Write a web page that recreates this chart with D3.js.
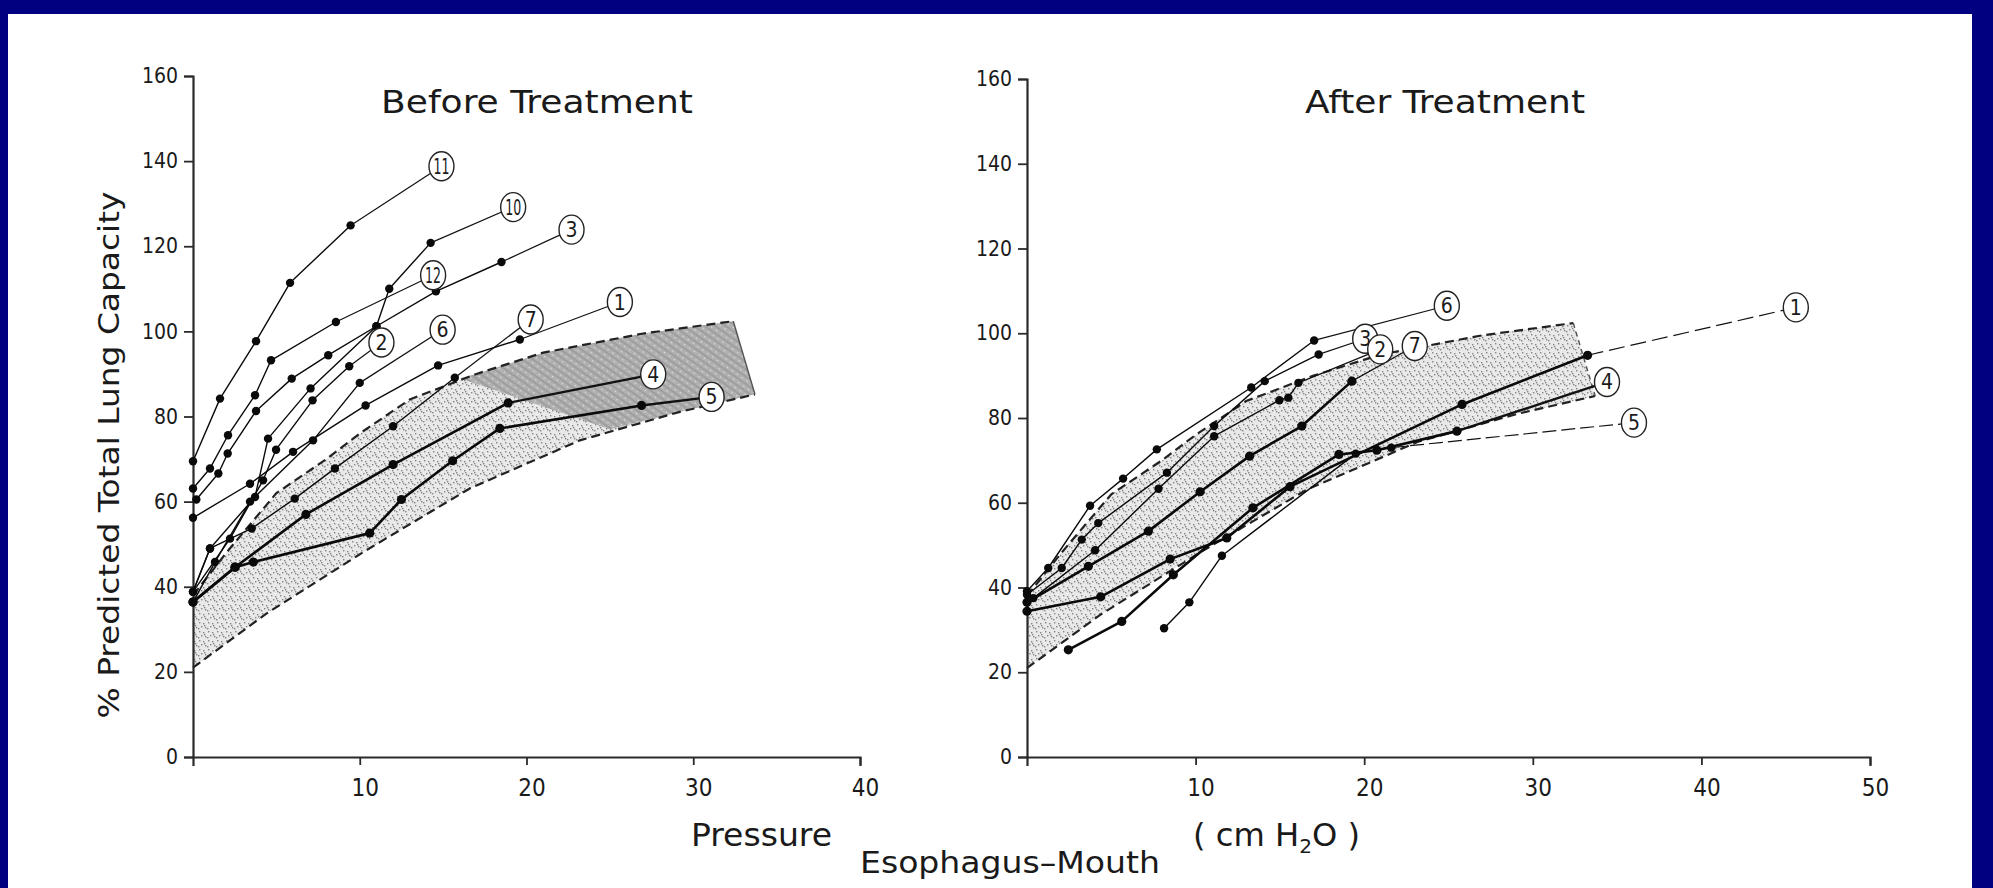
<!DOCTYPE html>
<html>
<head>
<meta charset="utf-8">
<script src="https://cdn.jsdelivr.net/npm/d3@7"></script>
<style>
  html, body { margin: 0; padding: 0; background: #000080; }
  svg { display: block; }
  text { font-family: "Liberation Sans Narrow", "DejaVu Sans Condensed", "Liberation Sans", sans-serif; fill: #1a1a1a; }
</style>
</head>
<body>
<svg id="chart" width="1993" height="888"></svg>
<script>
// ---- axis ticks ----
const yTickValues = [0, 20, 40, 60, 80, 100, 120, 140, 160];
const beforeXTicks = [10, 20, 30, 40];
const afterXTicks = [10, 20, 30, 40, 50];

// ---- normal range (shaded band): [pressure cmH2O, % predicted TLC] ----
const normalUpper = [[0, 38], [2, 48], [5, 62], [8, 70], [10, 76], [13, 84], [17, 90], [21, 95], [27, 99.5], [32.4, 102.4]];
const normalLower = [[0, 21], [4.4, 33.7], [10.4, 48.6], [16.6, 63.1], [23.2, 74.4], [29.2, 81.1], [33.7, 85.2]];
const beforeDarkZone = [[16, 89], [17, 90], [21, 95], [27, 99.5], [32.4, 102.4], [33.7, 85.2], [29.2, 81.1], [25, 77]];

// ---- Before treatment: patient curves ----
const before11 = [[0, 69.5], [1.62, 84.2], [3.78, 97.7], [5.82, 111.4], [9.45, 124.9]];
const before10 = [[0, 38.8], [1.02, 49], [3.72, 61.1], [4.5, 74.8], [7.05, 86.6], [11.0, 101.2], [11.77, 110], [14.25, 120.8]];
const before12 = [[0, 63.1], [1.02, 67.8], [2.1, 75.6], [3.72, 85.0], [4.68, 93.2], [8.57, 102.2]];
const before3 = [[0.2, 60.5], [1.52, 66.6], [2.08, 71.3], [3.78, 81.3], [5.92, 88.9], [8.11, 94.4], [11.0, 101.2], [14.57, 109.4], [18.5, 116.3]];
const before2 = [[0, 38.8], [2.22, 51.3], [4.2, 65], [4.98, 72.2], [7.17, 83.8], [9.37, 91.8]];
const before6 = [[0, 36.4], [1.32, 45.8], [3.42, 60], [7.2, 74.4], [10.0, 87.9]];
const before7 = [[0, 38.8], [1.02, 49], [3.52, 53.7], [6.1, 60.7], [8.51, 67.8], [12.0, 77.7], [15.7, 89.1]];
const before1 = [[0, 56.2], [3.42, 64.2], [6.0, 71.7], [10.35, 82.6], [14.7, 92.0], [19.6, 98.1]];
const before4 = [[0, 36.4], [2.52, 44.6], [6.77, 57], [12.0, 68.7], [18.9, 83.2]];
const before5 = [[0, 36.4], [2.52, 44.6], [3.62, 45.8], [10.6, 52.6], [12.5, 60.5], [15.57, 69.6], [18.4, 77.2], [26.9, 82.6]];
const beforeIds = ["11", "10", "12", "3", "2", "6", "7", "1", "4", "5"];
const beforeLabels = [[14.9, 138.8], [19.2, 129.2], [14.4, 113.2], [22.7, 123.9], [11.3, 97.4], [14.97, 100.4], [20.25, 102.8], [25.6, 106.9], [27.6, 89.9], [31.1, 84.6]];

// ---- After treatment: patient curves ----
const after6 = [[0, 39.1], [1.26, 44.6], [3.74, 59.3], [5.7, 65.7], [7.7, 72.6], [13.3, 87.2], [17.03, 98.3]];
const after3 = [[0, 38.3], [2.06, 44.6], [3.25, 51.3], [4.23, 55.2], [8.3, 67.1], [11.1, 78.1], [14.1, 88.7], [17.3, 95.0]];
const after2 = [[0.38, 37.5], [4.04, 48.8], [7.8, 63.3], [11.1, 75.7], [14.97, 84.2], [15.5, 84.8], [16.1, 88.3]];
const after7 = [[0, 36.5], [3.64, 45.0], [7.2, 53.3], [10.27, 62.6], [13.2, 71.0], [16.3, 78.1], [19.27, 88.7]];
const after1 = [[0, 34.4], [4.37, 37.8], [8.49, 46.7], [11.85, 51.7], [15.6, 63.8], [25.8, 83.2], [33.25, 94.8]];
const after4 = [[2.45, 25.3], [5.62, 32.0], [8.68, 43.0], [13.4, 58.8], [18.5, 71.4], [20.75, 72.4], [25.5, 76.9]];
const after5 = [[8.13, 30.4], [9.63, 36.5], [11.56, 47.5], [19.5, 71.6], [21.6, 73.0]];
const afterIds = ["6", "3", "2", "7", "1", "4", "5"];
const afterLabels = [[24.9, 106.5], [20.06, 98.7], [20.95, 96.2], [23.0, 97.0], [45.6, 106.1], [34.4, 88.5], [36.0, 78.9]];

// ---------------------------------------------------------------
const svg = d3.select("#chart");
const W = 1993, H = 888;

svg.append("rect").attr("width", W).attr("height", H).attr("fill", "#000080");
svg.append("rect").attr("x", 8).attr("y", 14).attr("width", 1964).attr("height", H - 14).attr("fill", "#ffffff");

// stipple textures for the normal band
const defs = svg.append("defs");
const light = defs.append("pattern").attr("id", "stippleLight")
  .attr("patternUnits", "userSpaceOnUse").attr("width", 9).attr("height", 9);
light.append("rect").attr("width", 9).attr("height", 9).attr("fill", "#e9e9e9");
[[1, 1], [5, 2], [3, 5], [7, 6], [0, 7], [6, 4]].forEach(([dx, dy]) =>
  light.append("rect").attr("x", dx).attr("y", dy).attr("width", 1.4).attr("height", 1.4).attr("fill", "#858585"));

const dark = defs.append("pattern").attr("id", "stippleDark")
  .attr("patternUnits", "userSpaceOnUse").attr("width", 6).attr("height", 6)
  .attr("patternTransform", "rotate(35)");
dark.append("rect").attr("width", 6).attr("height", 6).attr("fill", "#b0b0b0");
dark.append("rect").attr("width", 6).attr("height", 1.5).attr("fill", "#999");
dark.append("rect").attr("x", 2).attr("y", 3).attr("width", 1.2).attr("height", 1.2).attr("fill", "#e4e4e4");

function drawPanel(cfg) {
  const x = d3.scaleLinear().domain([0, cfg.xMax]).range(cfg.xRange);
  const y = d3.scaleLinear().domain([0, 160]).range(cfg.yRange);
  const g = svg.append("g");
  const line = d3.line().x(d => x(d[0])).y(d => y(d[1]));

  // normal band
  const band = normalUpper.concat(normalLower.slice().reverse());
  g.append("path").attr("d", line(band) + "Z").attr("fill", "url(#stippleLight)").attr("stroke", "none");
  if (cfg.darkZone) {
    g.append("path").attr("d", line(cfg.darkZone) + "Z").attr("fill", "url(#stippleDark)").attr("stroke", "none");
  }
  [normalUpper, normalLower].forEach(b => {
    g.append("path").attr("d", line(b)).attr("fill", "none")
      .attr("stroke", "#222").attr("stroke-width", 2.2).attr("stroke-dasharray", "9,5");
  });
  g.append("path").attr("d", line([normalUpper[normalUpper.length - 1], normalLower[normalLower.length - 1]]))
    .attr("fill", "none").attr("stroke", "#555").attr("stroke-width", 1.5).attr("stroke-dasharray", cfg.edgeDash);

  // axes
  const yAxis = d3.axisLeft(y).tickValues(yTickValues).tickSizeInner(9).tickSizeOuter(9).tickPadding(6);
  const ya = g.append("g").attr("transform", `translate(${cfg.xRange[0]},0)`).call(yAxis);
  const xAxis = d3.axisBottom(x).tickValues(cfg.xTicks).tickSizeInner(8).tickSizeOuter(9).tickPadding(14);
  const xa = g.append("g").attr("transform", `translate(0,${cfg.yRange[0]})`).call(xAxis);
  [ya, xa].forEach(a => {
    a.select(".domain").attr("stroke", "#2a2a2a").attr("stroke-width", 2.2);
    a.selectAll(".tick line").attr("stroke", "#2a2a2a").attr("stroke-width", 1.8);
  });
  ya.selectAll("text").attr("font-size", 21).style("font-family", "'Liberation Sans Narrow','DejaVu Sans Condensed',sans-serif").attr("fill", "#1a1a1a");
  xa.selectAll("text").attr("font-size", 24).attr("dx", 5).style("font-family", "'Liberation Sans Narrow','DejaVu Sans Condensed',sans-serif").attr("fill", "#1a1a1a");

  // curves
  cfg.curves.forEach((c, i) => {
    const lab = cfg.labels[i];
    const last = c.data[c.data.length - 1];
    g.append("path").attr("d", line([last, lab])).attr("fill", "none")
      .attr("stroke", "#111").attr("stroke-width", c.leaderThick ? 2.4 : 1.2)
      .attr("stroke-dasharray", c.leaderDash || "none");
    g.append("path").attr("d", line(c.data)).attr("fill", "none")
      .attr("stroke", "#0a0a0a").attr("stroke-width", c.thick ? 2.6 : 1.4).attr("stroke-linejoin", "round");
    g.selectAll(null).data(c.data).enter().append("circle")
      .attr("cx", d => x(d[0])).attr("cy", d => y(d[1])).attr("r", c.thick ? 4.6 : 4.2).attr("fill", "#0a0a0a");
  });
  // circled identifiers
  cfg.labels.forEach((lab, i) => {
    const id = cfg.ids[i];
    const cx = x(lab[0]), cy = y(lab[1]);
    g.append("ellipse").attr("cx", cx).attr("cy", cy).attr("rx", 12.5).attr("ry", 14.5)
      .attr("fill", "#fff").attr("stroke", "#222").attr("stroke-width", 1.4);
    const t = g.append("text").attr("x", cx).attr("y", cy + 7.5).attr("text-anchor", "middle")
      .attr("font-size", 21).text(id);
    if (id.length > 1) t.attr("textLength", 16).attr("lengthAdjust", "spacingAndGlyphs");
  });

  // title
  svg.append("text").attr("x", cfg.titleX[0]).attr("y", 113).attr("font-size", 32)
    .attr("textLength", cfg.titleX[1] - cfg.titleX[0]).attr("lengthAdjust", "spacingAndGlyphs")
    .text(cfg.title);
}

drawPanel({
  title: "Before Treatment", titleX: [381, 693],
  xMax: 40, xTicks: beforeXTicks, xRange: [193, 860], yRange: [757, 76],
  darkZone: beforeDarkZone, edgeDash: "none",
  ids: beforeIds, labels: beforeLabels,
  curves: [
    { data: before11 }, { data: before10 }, { data: before12 }, { data: before3 }, { data: before2 },
    { data: before6 }, { data: before7 }, { data: before1 },
    { data: before4, thick: true, leaderThick: true }, { data: before5, thick: true, leaderThick: true }
  ]
});

drawPanel({
  title: "After Treatment", titleX: [1305, 1585],
  xMax: 50, xTicks: afterXTicks, xRange: [1027, 1870], yRange: [757, 79],
  edgeDash: "5,4",
  ids: afterIds, labels: afterLabels,
  curves: [
    { data: after6 }, { data: after3 }, { data: after2 }, { data: after7, thick: true },
    { data: after1, thick: true, leaderDash: "16,6" }, { data: after4, thick: true, leaderThick: true },
    { data: after5, leaderDash: "14,5" }
  ]
});

// shared axis titles
svg.append("text").attr("transform", "translate(119,455) rotate(-90)").attr("text-anchor", "middle")
  .attr("font-size", 29).attr("textLength", 527).attr("lengthAdjust", "spacingAndGlyphs")
  .text("% Predicted Total Lung Capacity");
svg.append("text").attr("x", 691).attr("y", 846).attr("font-size", 32)
  .attr("textLength", 141).attr("lengthAdjust", "spacingAndGlyphs").text("Pressure");
const cm = svg.append("text").attr("x", 1193).attr("y", 846).attr("font-size", 32)
  .attr("textLength", 167).attr("lengthAdjust", "spacingAndGlyphs");
cm.append("tspan").text("( cm H");
cm.append("tspan").attr("dy", 7).attr("font-size", 20).text("2");
cm.append("tspan").attr("dy", -7).text("O )");
svg.append("text").attr("x", 860).attr("y", 873).attr("font-size", 30)
  .attr("textLength", 300).attr("lengthAdjust", "spacingAndGlyphs").text("Esophagus\u2013Mouth");
</script>
</body>
</html>
